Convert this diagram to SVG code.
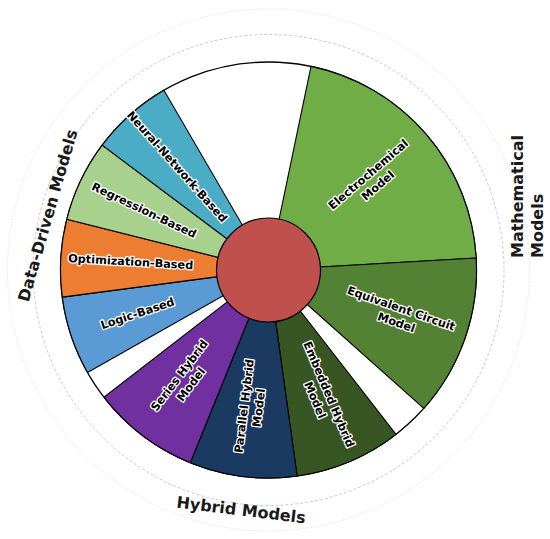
<svg xmlns="http://www.w3.org/2000/svg" width="550" height="539" viewBox="0 0 550 539">
<style>
.w{stroke:#000;stroke-width:1.1;stroke-linejoin:round}
.lbl{font-family:"DejaVu Sans",sans-serif;font-weight:bold;font-size:11.3px;fill:#000;stroke:#fff;stroke-width:2.6;stroke-linejoin:round;paint-order:stroke;text-anchor:middle;dominant-baseline:central}
.cat{font-family:"DejaVu Sans",sans-serif;font-weight:bold;font-size:16px;fill:#1a1a1a}
</style>
<rect width="550" height="539" fill="#fff"/>
<g id="guides" fill="none">
<circle cx="268.5" cy="270" r="235.5" stroke="#bbb" stroke-width="0.8" stroke-dasharray="3 2"/>
<circle cx="268.5" cy="270" r="261" stroke="#ddd" stroke-width="0.8" stroke-dasharray="1.5 1.5"/>
</g>
<g id="ring">
<circle cx="268.5" cy="270" r="208" fill="#fff" stroke="#000" stroke-width="1.3"/>
</g>
<g id="electrochemical">
<path class="w" fill="#70AD47" d="M268.5,270 L311,66.4 A208,208 0 0 1 476.15,258.03 Z"/>
<text class="lbl" transform="translate(373,179.9) rotate(-40.75)"><tspan x="0" y="-7.4">Electrochemical</tspan><tspan x="0" y="7.4">Model</tspan></text>
</g>
<g id="equivalent-circuit">
<path class="w" fill="#548235" d="M268.5,270 L476.15,258.03 A208,208 0 0 1 423.8,408.4 Z"/>
<text class="lbl" transform="translate(398.8,315.4) rotate(19.2)"><tspan x="0" y="-7.4">Equivalent Circuit</tspan><tspan x="0" y="7.4">Model</tspan></text>
</g>
<g id="embedded-hybrid">
<path class="w" fill="#375623" d="M268.5,270 L396,434.4 A208,208 0 0 1 297.1,476 Z"/>
<text class="lbl" transform="translate(322.1,397.2) rotate(67.15)"><tspan x="0" y="-7.4">Embedded Hybrid</tspan><tspan x="0" y="7.4">Model</tspan></text>
</g>
<g id="parallel-hybrid">
<path class="w" fill="#1B3A61" d="M268.5,270 L297.1,476 A208,208 0 0 1 190.3,462.7 Z"/>
<text class="lbl" transform="translate(251.4,406.9) rotate(-82.9)"><tspan x="0" y="-7.4">Parallel Hybrid</tspan><tspan x="0" y="7.4">Model</tspan></text>
</g>
<g id="series-hybrid">
<path class="w" fill="#7030A0" d="M268.5,270 L190.3,462.7 A208,208 0 0 1 103.9,397.2 Z"/>
<text class="lbl" transform="translate(185.1,379.9) rotate(-52.8)"><tspan x="0" y="-7.4">Series Hybrid</tspan><tspan x="0" y="7.4">Model</tspan></text>
</g>
<g id="logic-based">
<path class="w" fill="#5B9BD5" d="M268.5,270 L87.5,372.4 A208,208 0 0 1 62.3,297.1 Z"/>
<text class="lbl" transform="translate(137.6,313.8) rotate(-18.5)">Logic-Based</text>
</g>
<g id="optimization-based">
<path class="w" fill="#ED7D31" d="M268.5,270 L62.3,297.1 A208,208 0 0 1 66.8,219.3 Z"/>
<text class="lbl" transform="translate(130.7,262.1) rotate(3.3)">Optimization-Based</text>
</g>
<g id="regression-based">
<path class="w" fill="#A9D18E" d="M268.5,270 L66.8,219.3 A208,208 0 0 1 102.2,145.1 Z"/>
<text class="lbl" transform="translate(143.9,210.6) rotate(25.5)">Regression-Based</text>
</g>
<g id="neural-network-based">
<path class="w" fill="#4BACC6" d="M268.5,270 L102.2,145.1 A208,208 0 0 1 163.9,90.2 Z"/>
<text class="lbl" transform="translate(176.8,166.9) rotate(48.35)">Neural-Network-Based</text>
</g>
<g id="center">
<circle cx="268.5" cy="270" r="52" fill="#C0504D" stroke="#000" stroke-width="1.2"/>
</g>
<g id="category-labels">
<text class="cat" text-anchor="middle" transform="translate(53,217) rotate(-74)">Data-Driven Models</text>
<text class="cat" text-anchor="middle" transform="translate(240.5,515.5) rotate(7)">Hybrid Models</text>
<g transform="translate(523,258) rotate(-90)">
<text class="cat" x="0" y="0">Mathematical</text>
<text class="cat" x="0" y="20">Models</text>
</g>
</g>
</svg>
